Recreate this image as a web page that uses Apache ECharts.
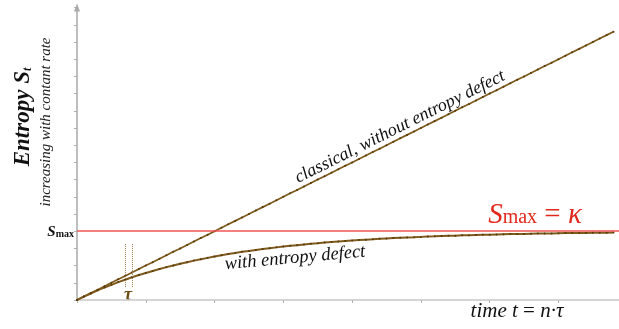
<!DOCTYPE html>
<html><head><meta charset="utf-8">
<script src="https://cdn.jsdelivr.net/npm/echarts@6/dist/echarts.min.js"></script>
<style>html,body{margin:0;padding:0;background:#fff}#c{width:619px;height:329px}</style>
</head><body><div id="c"></div>
<script>
// steps n (t = n·τ)
const steps = [0,1,2,3,4,5,6,7,8,9,10,11,12,13,14,15,16,17,18,19,20,21,22,23,24,25,26,27,28,29,30,31,32,33,34,35,36,37,38,39,40,41,42,43,44,45,46,47,48,49,50,51,52,53,54,55,56,57,58,59,60,61,62,63,64,65,66,67,68,69,70,71,72,73,74,75,76,77,78];
// classical entropy, without entropy defect
const classical = [0,0.2,0.4,0.6,0.8,1.0,1.2,1.4,1.6,1.8,2.0,2.2,2.4,2.6,2.8,3.0,3.2,3.4,3.6,3.8,4.0,4.2,4.4,4.6,4.8,5.0,5.2,5.4,5.6,5.8,6.0,6.2,6.4,6.6,6.8,7.0,7.2,7.4,7.6,7.8,8.0,8.2,8.4,8.6,8.8,9.0,9.2,9.4,9.6,9.8,10.0,10.2,10.4,10.6,10.8,11.0,11.2,11.4,11.6,11.8,12.0,12.2,12.4,12.6,12.8,13.0,13.2,13.4,13.6,13.8,14.0,14.2,14.4,14.6,14.8,15.0,15.2,15.4,15.6];
// entropy with entropy defect
const withDefect = [0,0.20,0.38,0.56,0.73,0.88,1.04,1.18,1.32,1.45,1.57,1.69,1.80,1.91,2.01,2.11,2.20,2.29,2.37,2.45,2.53,2.60,2.67,2.73,2.80,2.85,2.91,2.96,3.01,3.06,3.11,3.15,3.19,3.23,3.27,3.30,3.34,3.37,3.40,3.43,3.46,3.49,3.51,3.53,3.56,3.58,3.60,3.62,3.64,3.65,3.67,3.69,3.70,3.72,3.73,3.74,3.76,3.77,3.78,3.79,3.80,3.81,3.82,3.83,3.84,3.84,3.85,3.86,3.87,3.87,3.88,3.89,3.89,3.90,3.90,3.91,3.91,3.91,3.92];
const sMax = 4;
const tauMarks = [7, 8];
const tauTop = 3.25, tauBottom = 0.75;

const brown = '#7e5a1c', dot = '#5a3a0a', grey = '#c8c8c8';
const serif = '"Liberation Serif","DejaVu Serif",serif';
const chart = echarts.init(document.getElementById('c'));
const pair = (xs, ys) => xs.map((x, i) => [x, ys[i]]);
chart.setOption({
  animation: false,
  grid: {left: 77, right: 0, top: 7.6, bottom: 29, containLabel: false},
  xAxis: {type: 'value', min: 0, max: 78.8, interval: 10,
    axisLine: {lineStyle: {color: grey, width: 1.5}},
    axisTick: {show: true, length: 3, lineStyle: {color: '#b0b0b0'}},
    axisLabel: {show: false}, splitLine: {show: false}},
  yAxis: {type: 'value', min: 0, max: 17, interval: 1,
    axisLine: {show: true, symbol: ['none', 'triangle'], symbolSize: [6, 8], lineStyle: {color: '#aaaaaa', width: 1.5}},
    axisTick: {show: true, length: 3, lineStyle: {color: '#b0b0b0'}},
    axisLabel: {show: false}, splitLine: {show: false}},
  series: [
    {type: 'line', data: pair(steps, classical), symbol: 'circle', symbolSize: 2, showSymbol: true,
     lineStyle: {color: brown, width: 1.7}, itemStyle: {color: dot},
     markLine: {silent: true, symbol: ['none', 'none'], label: {show: false},
       lineStyle: {color: '#f05555', width: 1.5, type: 'solid'},
       data: [{yAxis: sMax}]}},
    {type: 'line', data: pair(steps, withDefect), symbol: 'circle', symbolSize: 2, showSymbol: true,
     lineStyle: {color: brown, width: 2}, itemStyle: {color: dot},
     markLine: {silent: true, symbol: ['none', 'none'], label: {show: false},
       lineStyle: {color: '#9a7a48', width: 1, type: 'dotted'},
       data: tauMarks.map(t => [{coord: [t, tauBottom]}, {coord: [t, tauTop]}])}}
  ],
  graphic: [
    {type: 'text', x: 23, y: 117, rotation: Math.PI / 2,
     style: {text: '{a|Entropy S}{b|t}', align: 'center', verticalAlign: 'middle',
       rich: {a: {font: 'italic bold 23px ' + serif, fill: '#111'}, b: {font: 'italic bold 12px ' + serif, fill: '#111', padding: [10, 0, 0, 0]}}}},
    {type: 'text', x: 46, y: 122, rotation: Math.PI / 2,
     style: {text: 'increasing with contant rate', align: 'center', verticalAlign: 'middle', font: 'italic 15px ' + serif, fill: '#222'}},
    {type: 'text', x: 74, y: 232,
     style: {text: '{a|S}{b|max}', align: 'right', verticalAlign: 'middle',
       rich: {a: {font: 'italic bold 15px ' + serif, fill: '#111'}, b: {font: 'bold 10px ' + serif, fill: '#111', padding: [4, 0, 0, 0]}}}},
    {type: 'text', x: 535, y: 215,
     style: {text: '{a|S}{b|max}{c| = }{a|κ}', align: 'center', verticalAlign: 'middle',
       rich: {a: {font: 'italic 29px ' + serif, fill: '#e2281c'}, b: {font: '20px ' + serif, fill: '#e2281c', padding: [6, 0, 0, 0]}, c: {font: '29px ' + serif, fill: '#e2281c'}}}},
    {type: 'text', x: 400, y: 127, rotation: 0.463,
     style: {text: 'classical, without entropy defect', align: 'center', verticalAlign: 'middle', font: 'italic 18px ' + serif, fill: '#111'}},
    {type: 'text', x: 295, y: 258, rotation: 0.09,
     style: {text: 'with entropy defect', align: 'center', verticalAlign: 'middle', font: 'italic 18.5px ' + serif, fill: '#111'}},
    {type: 'text', x: 128, y: 295,
     style: {text: 'τ', align: 'center', verticalAlign: 'middle', font: 'italic bold 18px ' + serif, fill: '#6b4a12'}},
    {type: 'text', x: 517, y: 311,
     style: {text: '{a|time t }{b|=}{a| n·τ}', align: 'center', verticalAlign: 'middle',
       rich: {a: {font: 'italic 21px ' + serif, fill: '#111'}, b: {font: '21px ' + serif, fill: '#111'}}}}
  ]
});
</script></body></html>
